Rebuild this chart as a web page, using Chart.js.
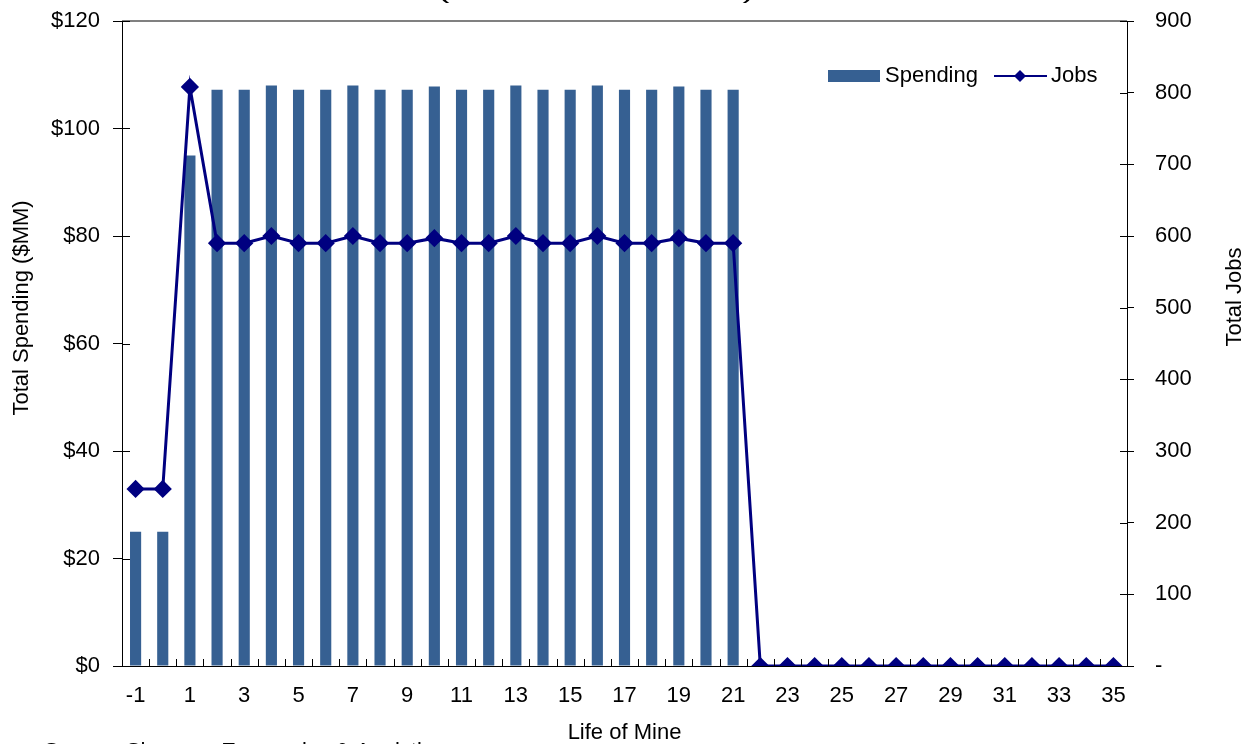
<!DOCTYPE html>
<html>
<head>
<meta charset="utf-8">
<script src="https://cdn.jsdelivr.net/npm/chart.js@4.4.1/dist/chart.umd.min.js"></script>
<style>
  html, body { margin: 0; padding: 0; background: #ffffff; }
  #wrap { width: 1250px; height: 744px; position: relative; }
</style>
</head>
<body>
<div id="wrap"><canvas id="c" width="1250" height="744"></canvas></div>
<script>
// ---- Data ----
const years = [-1,0,1,2,3,4,5,6,7,8,9,10,11,12,13,14,15,16,17,18,19,20,21,22,23,24,25,26,27,28,29,30,31,32,33,34,35];
const spending = [25,25,95,107.2,107.2,108,107.2,107.2,108,107.2,107.2,107.8,107.2,107.2,108,107.2,107.2,108,107.2,107.2,107.8,107.2,107.2,0,0,0,0,0,0,0,0,0,0,0,0,0,0];
const jobs = [247,247,808,590,590,600,590,590,600,590,590,597,590,590,600,590,590,600,590,590,597,590,590,0,0,0,0,0,0,0,0,0,0,0,0,0,0];
const leftTicks = [0,20,40,60,80,100,120];
const rightTicks = [0,100,200,300,400,500,600,700,800,900];
const leftTitle = 'Total Spending ($MM)';
const rightTitle = 'Total Jobs';

const FONT = "'Liberation Sans', Arial, sans-serif";
const BAR = '#366092';
const LINE = '#000080';

function noPad(s) { s.paddingTop = 0; s.paddingBottom = 0; s.paddingLeft = 0; s.paddingRight = 0; }

const decor = {
  id: 'decor',
  afterDraw(chart) {
    const ctx = chart.ctx;
    const a = chart.chartArea;
    const yl = chart.scales.y, yr = chart.scales.y1;
    ctx.save();
    // top border
    ctx.strokeStyle = '#808080';
    ctx.lineWidth = 2;
    ctx.beginPath(); ctx.moveTo(a.left, a.top); ctx.lineTo(a.right, a.top); ctx.stroke();
    // inward ticks on x axis (between categories)
    ctx.strokeStyle = '#000';
    ctx.lineWidth = 1;
    const n = years.length;
    const w = (a.right - a.left) / n;
    for (let i = 1; i < n; i++) {
      const x = Math.round(a.left + i * w) + 0.5;
      ctx.beginPath(); ctx.moveTo(x, a.bottom); ctx.lineTo(x, a.bottom - 7); ctx.stroke();
    }
    // inward ticks on y axes
    leftTicks.forEach(v => {
      const y = Math.round(yl.getPixelForValue(v)) + 0.5;
      ctx.beginPath(); ctx.moveTo(a.left, y); ctx.lineTo(a.left + 8, y); ctx.stroke();
    });
    rightTicks.forEach(v => {
      const y = Math.round(yr.getPixelForValue(v)) + 0.5;
      ctx.beginPath(); ctx.moveTo(a.right, y); ctx.lineTo(a.right - 7, y); ctx.stroke();
    });
    // legend
    ctx.fillStyle = BAR;
    ctx.fillRect(828, 70, 52, 12);
    ctx.fillStyle = '#000';
    ctx.font = '22px ' + FONT;
    ctx.textBaseline = 'middle';
    ctx.textAlign = 'left';
    ctx.fillText('Spending', 885, 76);
    ctx.strokeStyle = LINE;
    ctx.lineWidth = 2;
    ctx.beginPath(); ctx.moveTo(994, 76); ctx.lineTo(1047, 76); ctx.stroke();
    ctx.fillStyle = LINE;
    ctx.beginPath(); ctx.moveTo(1020, 70); ctx.lineTo(1026, 76); ctx.lineTo(1020, 82); ctx.lineTo(1014, 76); ctx.closePath(); ctx.fill();
    ctx.fillStyle = '#000';
    ctx.fillText('Jobs', 1051, 76);
    // axis titles
    ctx.textAlign = 'center';
    ctx.save();
    ctx.translate(22, 308);
    ctx.rotate(-Math.PI / 2);
    ctx.fillText(leftTitle, 0, 0);
    ctx.restore();
    ctx.save();
    ctx.translate(1235, 297);
    ctx.rotate(-Math.PI / 2);
    ctx.fillText(rightTitle, 0, 0);
    ctx.restore();
    ctx.textAlign = 'left';
    // cut-off title (only bottom of parentheses visible)
    ctx.save();
    ctx.textBaseline = 'alphabetic';
    ctx.font = '22px ' + FONT;
    const t = '(Millions of Dollars)';
    const tw = ctx.measureText(t).width;
    ctx.translate(437, -2);
    ctx.scale(318 / tw, 1);
    ctx.fillText(t, 0, 0);
    ctx.restore();
    // cut-off source line
    ctx.textBaseline = 'alphabetic';
    ctx.font = '22px ' + FONT;
    ctx.fillText('Source: Sherman Economics & Analytics', 44, 758);
    ctx.restore();
  }
};

new Chart(document.getElementById('c'), {
  data: {
    labels: years,
    datasets: [
      {
        type: 'line', label: 'Jobs', data: jobs, yAxisID: 'y1',
        borderColor: LINE, backgroundColor: LINE, borderWidth: 3,
        pointStyle: 'rectRot', pointRadius: 7, pointHoverRadius: 7,
        tension: 0, order: 0
      },
      {
        type: 'bar', label: 'Spending', data: spending, yAxisID: 'y',
        backgroundColor: BAR, borderWidth: 0,
        barPercentage: 0.41, categoryPercentage: 1.0, order: 1
      }
    ]
  },
  options: {
    responsive: false,
    animation: false,
    devicePixelRatio: 1,
    layout: { padding: { top: 21, left: 0, right: 0, bottom: 0 } },
    plugins: { legend: { display: false }, tooltip: { enabled: false } },
    scales: {
      x: {
        type: 'category',
        offset: true,
        grid: { display: true, drawOnChartArea: false, drawTicks: false, offset: true },
        border: { display: true, color: '#000', width: 1 },
        ticks: {
          autoSkip: false, maxRotation: 0, minRotation: 0, padding: 17,
          color: '#000', font: { family: FONT, size: 22 },
          callback: function(v, i) { return i % 2 === 0 ? String(years[i]) : ''; }
        },
        title: { display: true, text: 'Life of Mine', color: '#000', font: { family: FONT, size: 22 }, padding: { top: 0, bottom: -2 } },
        afterFit(s) { s.height = 78; noPad(s); }
      },
      y: {
        type: 'linear', position: 'left', min: 0, max: 120,
        afterBuildTicks(s) { s.ticks = leftTicks.map(v => ({ value: v })); },
        grid: { drawOnChartArea: false, drawTicks: true, tickLength: 9, color: '#000' },
        border: { display: true, color: '#000', width: 1 },
        ticks: { padding: 13, color: '#000', font: { family: FONT, size: 22 }, callback: v => '$' + v },
        title: { display: false },
        afterFit(s) { s.width = 122; noPad(s); }
      },
      y1: {
        type: 'linear', position: 'right', min: 0, max: 900,
        afterBuildTicks(s) { s.ticks = rightTicks.map(v => ({ value: v })); },
        grid: { drawOnChartArea: false, drawTicks: true, tickLength: 7, color: '#000' },
        border: { display: true, color: '#000', width: 1 },
        ticks: { padding: 21, color: '#000', font: { family: FONT, size: 22 }, callback: v => v === 0 ? '-' : String(v) },
        title: { display: false },
        afterFit(s) { s.width = 123; noPad(s); }
      }
    }
  },
  plugins: [decor]
});
</script>
</body>
</html>
